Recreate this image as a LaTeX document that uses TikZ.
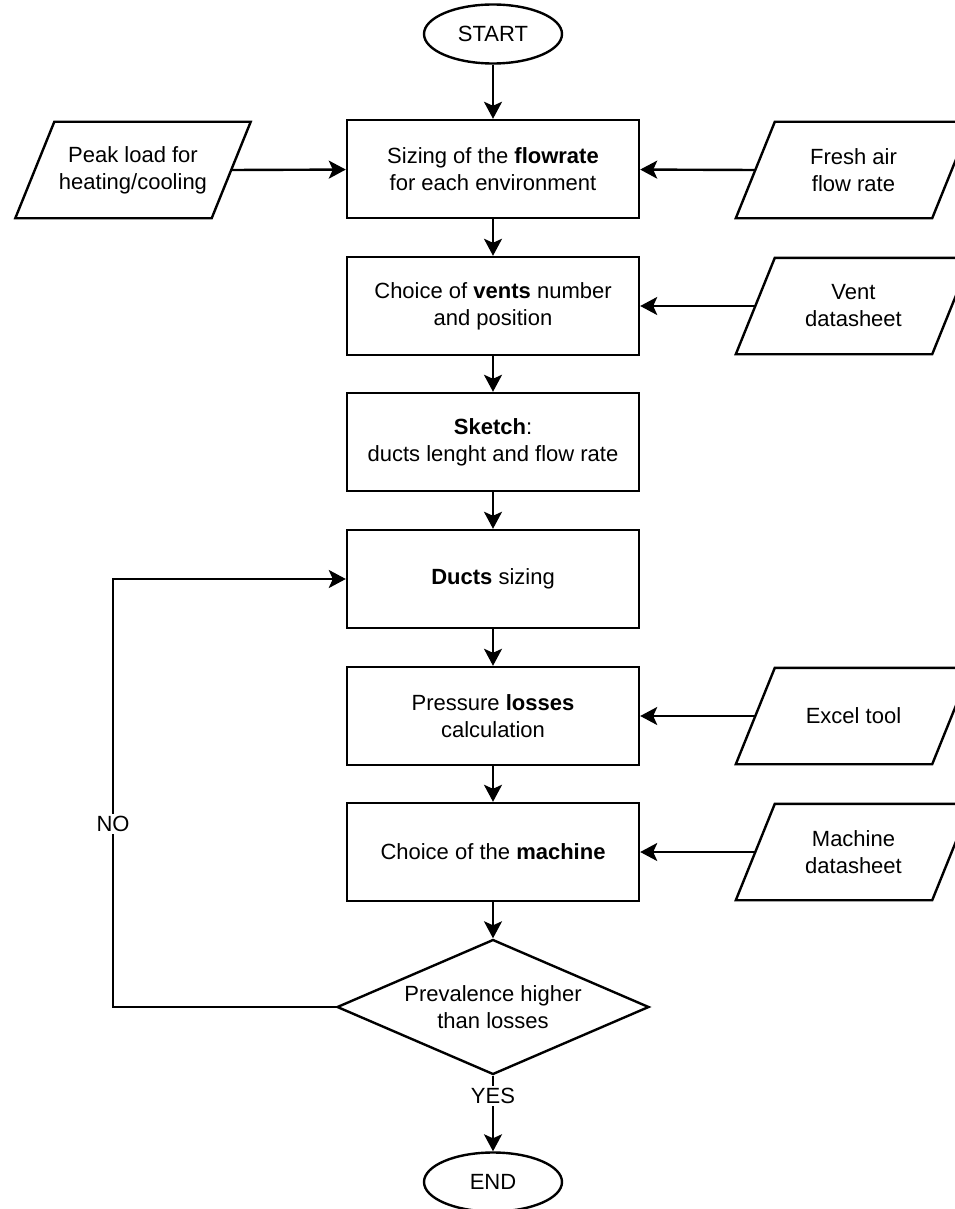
\documentclass[tikz,border=0pt]{standalone}
\usepackage{fontspec}
\setmainfont{Liberation Sans}
\usetikzlibrary{shapes.geometric,arrows.meta}
\begin{document}
\begin{tikzpicture}[x=1pt,y=-1pt,
  every node/.style={font=\fontsize{22}{27}\selectfont, align=center},
  process/.style={draw, line width=2.4pt, minimum width=292pt, minimum height=98pt, inner sep=0pt},
  terminal/.style={draw, ellipse, line width=2.4pt, minimum width=138pt, minimum height=59pt, inner sep=0pt},
  datain/.style={minimum width=196pt, minimum height=96pt, inner sep=0pt},
  paraline/.style={line width=2.4pt, line join=miter},
  decision/.style={draw, diamond, aspect=2.31, minimum width=312pt, minimum height=135pt, inner sep=0pt, line width=2.4pt},
  flow/.style={line width=2.4pt, -{Stealth[length=17pt,width=18pt,inset=4pt]}},
  lbl/.style={fill=white, inner sep=2pt}
]
\useasboundingbox[fill=white] (0,0) rectangle (954,1209);

\node[terminal] (start) at (493,34) {START};
\node[process] (b1) at (493,169) {Sizing of the \textbf{flowrate}\\for each environment};
\node[process] (b2) at (493,306) {Choice of \textbf{vents} number\\and position};
\node[process] (b3) at (493,442) {\textbf{Sketch}:\\ducts lenght and flow rate};
\node[process] (b4) at (493,579) {\textbf{Ducts} sizing};
\node[process] (b5) at (493,716) {Pressure \textbf{losses}\\calculation};
\node[process] (b6) at (493,852) {Choice of the \textbf{machine}};
\node[decision] (dec) at (493,1007) {Prevalence higher\\than losses};
\node[terminal] (end) at (493,1182) {END};

\node[datain] (p1) at (133,170) {Peak load for\\heating/cooling};
\node[datain] (p2) at (853.5,170) {Fresh air\\flow rate};
\node[datain] (p3) at (853.5,306) {Vent\\datasheet};
\node[datain] (p4) at (853.5,716) {Excel tool};
\node[datain] (p5) at (853.5,852) {Machine\\datasheet};

\foreach \n in {p1,p2,p3,p4,p5}
  \draw[paraline] ([xshift=-19.5pt]\n.south west) -- ([xshift=-19.5pt]\n.south east)
    -- ([xshift=19.5pt]\n.north east) -- ([xshift=19.5pt]\n.north west) -- cycle;

\draw[flow] (start) -- (b1);
\draw[flow] (b1) -- (b2);
\draw[flow] (b2) -- (b3);
\draw[flow] (b3) -- (b4);
\draw[flow] (b4) -- (b5);
\draw[flow] (b5) -- (b6);
\draw[flow] (b6) -- (dec);
\draw[flow] (dec) -- (end);

\draw[flow] (p1.east) -- (b1);
\draw[flow] (p2.west) -- (b1);
\draw[flow] (p3.west) -- (b2);
\draw[flow] (p4.west) -- (b5);
\draw[flow] (p5.west) -- (b6);

\coordinate (lp) at (113,1007);
\draw[flow] (dec.west) -- (lp) |- (b4.west);

\node[lbl] (no) at (113,824) {NO};
\node[lbl] (yes) at (493,1096) {YES};
\end{tikzpicture}
\end{document}
